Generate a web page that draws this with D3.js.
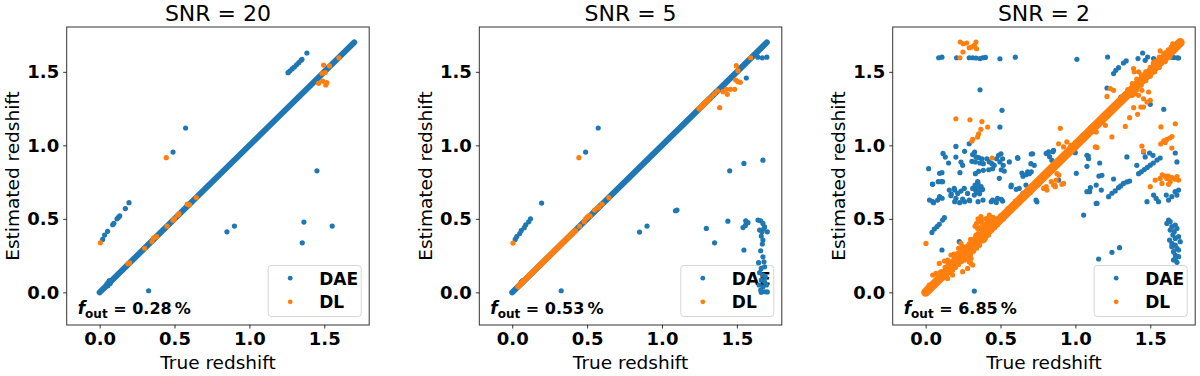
<!DOCTYPE html>
<html>
<head>
<meta charset="utf-8">
<script src="https://cdn.jsdelivr.net/npm/d3@7"></script>
<style>
  body { margin: 0; background: #fff; }
  svg text { font-family: "DejaVu Sans", sans-serif; }
  .tick text { font-weight: bold; font-size: 18px; fill: #000; }
  .tick line { stroke: #000; stroke-width: 0.8; }
  .domain { display: none; }
</style>
</head>
<body>
<div id="chart"></div>
<script>
// ---- data ----
var panelTitles = ["SNR = 20", "SNR = 5", "SNR = 2"];
var outlierFractions = ["0.28", "0.53", "6.85"];
var seriesNames = ["DAE", "DL"];
var xTicks = [0.0, 0.5, 1.0, 1.5];
var yTicks = [0.0, 0.5, 1.0, 1.5];

// dense runs of points lying on z_est = z_true, stored as [from, to]
var snr20DaeRuns = [[0.0, 1.7]];
var snr20DlRuns = [];
var snr5DaeRuns = [[0.0, 1.7]];
var snr5DlRuns = [[0.04, 0.42], [1.25, 1.31]];
var snr2DaeRuns = [[0.0, 1.7]];
var snr2DlRuns = [[0.0, 1.7]];

// individual points [true z, estimated z]
var snr20Dae = [[0.02,0.36],[0.033,0.39],[0.053,0.415],[0.087,0.46],[0.095,0.47],[0.116,0.5],[0.125,0.51],[0.134,0.52],
  [0.172,0.57],[0.196,0.61],[0.327,0.011],[0.49,0.954],[0.574,1.118],[0.85,0.412],[0.9,0.451],[1.353,0.337],
  [1.364,0.478],[1.451,0.827],[1.553,0.451],[1.258,1.494],[1.27,1.505],[1.285,1.52],[1.3,1.533],[1.315,1.548],
  [1.33,1.562],[1.345,1.578],[1.351,1.585],[1.384,1.628],[0.05,0.06],[0.06,0.07],[0.07,0.06],[0.055,0.045],[0.065,0.08]];
var snr20Dl = [[0.005,0.337],[0.445,0.916],[0.19,0.195],[0.2,0.2],[0.3,0.3],[0.35,0.345],[0.36,0.37],[0.37,0.375],
  [0.38,0.38],[0.45,0.45],[0.49,0.49],[0.5,0.5],[0.52,0.525],[0.53,0.535],[0.585,0.6],[0.6,0.595],[0.645,0.645],
  [1.462,1.422],[1.489,1.437],[1.51,1.411],[1.517,1.426],[1.485,1.49],[1.506,1.495],[1.495,1.546],[1.535,1.54],[1.598,1.596]];

var snr5Dae = [[0.02,0.36],[0.03,0.38],[0.05,0.4],[0.06,0.42],[0.08,0.44],[0.09,0.46],[0.11,0.48],[0.122,0.5],
  [0.196,0.607],[0.327,0.011],[0.49,0.954],[0.574,1.118],[0.85,0.41],[0.9,0.451],[1.09,0.555],[1.1,0.56],
  [1.296,0.435],[1.351,0.337],[1.44,0.484],[1.452,0.827],[1.547,0.877],[1.674,0.899],[1.563,1.458],[1.547,0.288],
  [1.541,0.441],[1.557,0.455],[1.574,0.474],[1.559,0.487],[1.64,1.6],[1.67,1.595],[1.7,1.6],[0.06,0.07],[0.07,0.08],
  [1.641,0.492],[1.659,0.487],[1.674,0.469],[1.685,0.446],[1.652,0.424],[1.668,0.412],[1.681,0.435],[1.703,0.412],
  [1.663,0.383],[1.674,0.356],[1.67,0.329],[1.659,0.283],[1.674,0.242],[1.645,0.202],[1.681,0.208],[1.663,0.163],
  [1.685,0.174],[1.652,0.134],[1.674,0.118],[1.69,0.106],[1.663,0.084],[1.685,0.072],[1.648,0.05],[1.674,0.038],
  [1.697,0.05],[1.659,0.016],[1.685,0.004],[1.703,0.003],[1.663,0.0]];
var snr5Dl = [[0.005,0.335],[0.445,0.916],[0.45,0.45],[0.48,0.48],[0.49,0.5],[0.5,0.51],[0.51,0.52],[0.52,0.52],
  [0.55,0.56],[0.57,0.575],[0.58,0.58],[0.6,0.6],[0.645,0.645],[1.33,1.33],[1.35,1.35],[1.37,1.37],[1.385,1.256],
  [1.407,1.365],[1.43,1.381],[1.456,1.381],[1.485,1.381],[1.436,1.347],[1.492,1.444],[1.507,1.433],[1.523,1.429],
  [1.496,1.542],[1.507,1.508],[1.592,1.596]];

var snr2Dae = [[0.087,1.596],[0.109,1.6],[0.207,1.596],[0.291,1.596],[0.314,1.596],[0.336,1.594],[0.363,1.59],
  [0.381,1.596],[0.399,1.598],[0.496,1.589],[0.599,1.6],[1.01,1.585],[1.215,1.601],[0.363,1.378],[0.51,1.238],
  [0.496,1.124],[0.291,1.011],[0.202,0.993],[0.327,0.954],[0.26,0.959],[0.116,0.945],[0.131,0.92],[0.153,0.88],
  [0.202,0.92],[0.236,0.886],[0.247,0.864],[0.02,0.841],[0.109,0.814],[0.229,0.814],
  [0.314,0.937],[0.336,0.921],[0.354,0.916],[0.376,0.909],[0.309,0.891],[0.332,0.887],[0.363,0.88],[0.385,0.875],
  [0.409,0.909],[0.425,0.887],[0.443,0.875],[0.458,0.864],[0.474,0.909],[0.487,0.932],[0.503,0.943],[0.514,0.909],
  [0.496,0.887],[0.518,0.864],[0.505,0.834],[0.525,0.825],[0.447,0.841],[0.421,0.834],[0.385,0.83],[0.354,0.823],
  [0.332,0.807],[0.559,0.887],[0.614,0.916],[0.714,0.943],[0.703,0.875],[0.725,0.864],[0.643,0.812],[0.681,0.819],
  [0.692,0.807],
  [0.026,0.628],[0.053,0.61],[0.045,0.737],[0.093,0.81],[0.104,0.753],[0.084,0.753],[0.093,0.651],[0.11,0.64],
  [0.171,0.669],[0.194,0.696],[0.047,0.735],[0.113,0.753],[0.158,0.696],[0.191,0.707],[0.214,0.673],[0.236,0.689],
  [0.258,0.707],[0.28,0.673],[0.314,0.707],[0.336,0.719],[0.347,0.753],[0.369,0.696],[0.325,0.662],[0.291,0.628],
  [0.247,0.635],[0.202,0.639],[0.169,0.658],[0.047,0.617],[0.08,0.628],
  [0.33,0.7],[0.34,0.72],[0.35,0.69],[0.36,0.71],[0.35,0.74],[0.37,0.72],[0.34,0.68],[0.36,0.67],[0.38,0.7],
  [0.33,0.73],[0.355,0.705],[0.345,0.695],
  [0.447,0.628],[0.48,0.639],[0.514,0.621],[0.492,0.776],[0.57,0.719],[0.625,0.707],[0.67,0.73],[0.714,0.719],
  [0.737,0.628],[0.194,0.617],[0.227,0.61],[0.26,0.617],[0.294,0.624],[0.35,0.617],[0.383,0.628],[0.438,0.617],
  [0.472,0.612],[0.505,0.633],
  [0.042,0.408],[0.058,0.431],[0.076,0.447],[0.091,0.463],[0.113,0.492],[0.125,0.508],[0.109,0.288],[0.225,0.345],
  [0.325,0.009],
  [0.572,0.73],[0.605,0.701],[0.65,0.673],[0.743,0.616],[0.705,0.941],[0.616,0.912],[0.805,0.946],[0.828,0.923],
  [0.85,0.957],[0.65,0.79],[0.67,0.8],[0.69,0.81],[0.705,0.82],
  [0.821,0.955],[0.854,0.966],[0.843,0.898],[0.81,0.943],[0.999,0.95],[1.077,0.932],[1.088,0.909],[1.077,0.857],
  [1.162,0.88],[1.177,0.796],[1.344,0.921],[1.41,0.864],[1.455,0.955],[1.466,0.921],[1.495,0.948],[1.518,0.932],
  [1.422,0.807],[1.44,0.82],[1.46,0.835],[1.48,0.85],[1.5,0.865],[1.52,0.88],[1.545,0.9],[1.566,0.914],
  [1.667,0.948],[1.678,0.887],
  [1.255,1.488],[1.27,1.51],[1.288,1.528],[1.321,1.56],[1.339,1.574],[1.449,1.628],[1.418,1.59],[1.466,1.578],
  [1.482,1.601],[1.522,1.59],[1.644,1.598],[1.656,1.598],[1.68,1.596],[1.689,1.594],[1.211,1.39],[1.304,1.329],
  [1.5,1.279],[1.59,1.245],
  [1.006,0.81],[1.086,0.927],[1.157,0.791],[1.139,0.73],[1.173,0.696],[1.095,0.685],[1.139,0.605],[1.055,0.526],
  [0.888,0.764],[1.077,0.685],[1.1,0.712],[1.144,0.605],[1.255,0.771],
  [1.222,0.651],[1.244,0.674],[1.266,0.69],[1.288,0.712],[1.303,0.724],[1.321,0.741],[1.344,0.751],[1.362,0.757],
  [1.478,0.617],[1.522,0.662],[1.539,0.639],[1.555,0.617],[1.607,0.662],[1.622,0.628],[1.644,0.651],[1.666,0.685],
  [1.678,0.662],[1.689,0.696],
  [1.622,0.492],[1.611,0.469],[1.633,0.481],[1.644,0.447],[1.667,0.458],[1.633,0.424],[1.66,0.413],[1.678,0.435],
  [1.651,0.39],[1.667,0.367],[1.689,0.379],[1.629,0.356],[1.644,0.333],[1.667,0.322],[1.7,0.345],[1.678,0.299],
  [1.655,0.277],[1.667,0.254],[1.689,0.243],[1.655,0.22],[1.678,0.204],[1.667,0.231],[1.689,0.288],[1.644,0.311],
  [1.155,0.227],[1.244,0.272],[1.295,0.304]];
var snr2Dl = [[0.231,1.703],[0.251,1.691],[0.274,1.696],[0.291,1.664],[0.307,1.669],[0.325,1.68],[0.336,1.703],
  [0.34,1.657],[0.249,1.635],[0.229,1.596],
  [0.202,1.181],[0.296,1.174],[0.376,1.162],[0.414,1.124],[0.369,1.109],[0.354,1.079],[0.347,1.057],[0.314,1.041],
  [0.309,1.029],[0.443,0.914],[0.899,1.116],[0.89,0.798],[0.805,0.719],[0.839,0.753],[0.921,0.741],[0.794,0.707],
  [0.862,0.73],[0.888,1.011],[0.943,1.023],[0.921,0.989],[1.133,0.989],[1.144,0.986],[0.877,0.807],
  [1.155,1.136],[1.2,1.136],[1.139,1.091],[1.244,1.057],[1.233,1.386],[1.255,1.374],[1.211,1.333],[1.388,1.522],
  [1.393,1.5],[1.422,1.5],[1.371,1.34],[1.4,1.351],[1.422,1.34],[1.444,1.374],[1.455,1.317],[1.478,1.295],
  [1.5,1.306],[1.455,1.261],[1.437,1.261],[1.389,1.256],[1.415,1.211],[1.362,1.188],[1.333,1.129],[1.489,1.363],
  [1.667,1.147],[1.571,1.125],[1.566,1.642],
  [1.57,1.01],[1.59,1.03],[1.61,1.04],[1.63,1.05],[1.645,1.06],[1.6,1.02],[1.444,0.995],[1.455,0.961],[1.644,0.982],
  [1.58,0.8],[1.6,0.79],[1.62,0.79],[1.645,0.78],[1.61,0.775],[1.667,0.77],[1.533,0.764],[1.566,0.775],
  [1.633,0.753],[1.678,0.787],[1.689,0.764],[1.578,0.741],[1.5,0.719],[1.622,0.735],
  [0.788,0.707],[0.81,0.696],[0.854,0.73],[0.872,0.764],[0.866,0.719],[0.91,0.735],[0.002,0.333],
  [0.091,0.197],[0.125,0.213],[0.113,0.141],[0.147,0.22],[0.169,0.254],[0.18,0.175],[0.214,0.265],[0.225,0.231],
  [0.236,0.333],[0.247,0.311],[0.258,0.277],[0.28,0.311],[0.303,0.231],[0.336,0.39],[0.347,0.435],[0.358,0.481],
  [0.369,0.515],[0.381,0.413],[0.403,0.458],[0.414,0.503],[0.425,0.526],[0.363,0.345],[0.392,0.356],[0.314,0.186],
  [0.291,0.209],[0.047,0.118],[0.069,0.129],[0.024,0.05],[0.102,0.118],[0.147,0.095],[0.18,0.118],[0.247,0.141],
  [0.28,0.163],[0.303,0.197],[0.2,0.21],[0.27,0.25],[0.32,0.3],[0.35,0.37],[0.39,0.42],[0.44,0.47],[0.47,0.5],
  [0.5,0.52],[0.16,0.18],[0.12,0.1],
  // thick part of the band between 0.1 and 0.5
  [0.1,0.14],[0.13,0.17],[0.15,0.19],[0.17,0.21],[0.19,0.23],[0.21,0.25],[0.23,0.27],[0.25,0.29],[0.27,0.31],
  [0.29,0.33],[0.31,0.35],[0.33,0.37],[0.35,0.4],[0.37,0.43],[0.39,0.45],[0.41,0.47],[0.43,0.49],[0.45,0.51],
  [0.14,0.12],[0.16,0.14],[0.18,0.15],[0.2,0.17],[0.22,0.19],[0.24,0.21],[0.26,0.22],[0.28,0.24],[0.3,0.26],
  [0.32,0.28],[0.34,0.3],[0.36,0.32],[0.38,0.35],[0.4,0.37],[0.42,0.39],[0.44,0.42],[0.46,0.44],[0.48,0.46],
  [0.33,0.45],[0.34,0.47],[0.35,0.5],[0.37,0.49],[0.36,0.44],[0.3,0.36],[0.24,0.3],[0.22,0.3],[0.19,0.26],
  [0.2,0.24],[0.26,0.26],[0.38,0.47],[0.4,0.5],[0.42,0.46],[0.46,0.49],[0.49,0.49],[0.52,0.5],[0.54,0.53],
  // thick part near the top
  [1.35,1.38],[1.38,1.42],[1.41,1.45],[1.44,1.48],[1.47,1.5],[1.5,1.53],[1.53,1.57],[1.56,1.6],[1.59,1.62],
  [1.38,1.34],[1.41,1.38],[1.44,1.41],[1.47,1.44],[1.5,1.47],[1.53,1.5],[1.56,1.53],[1.6,1.57],[1.63,1.6],
  [1.62,1.65],[1.64,1.67],[1.66,1.68],[1.68,1.69],[1.69,1.7],[1.65,1.69],[1.6,1.63],[1.67,1.66],[1.55,1.58],
  [1.52,1.56],[1.58,1.6],[0.6,0.62],[0.7,0.68],[0.55,0.57],[0.75,0.73],[0.97,1.0],[1.05,1.07],[1.1,1.12],[1.0,1.02]];

var panels = [
  {runs: [snr20DaeRuns, snr20DlRuns], pts: [snr20Dae, snr20Dl], runWidth: [6, 6]},
  {runs: [snr5DaeRuns, snr5DlRuns], pts: [snr5Dae, snr5Dl], runWidth: [6, 6]},
  {runs: [snr2DaeRuns, snr2DlRuns], pts: [snr2Dae, snr2Dl], runWidth: [6, 9]}
];
var colors = ["#1f77b4", "#ff7f0e"];

// ---- layout ----
var W = 1200, H = 376;
var lefts = [66.7, 479.3, 892.7],
    pw = 302.5, plotTop = 27, ph = 298, r = 2.6;

var svg = d3.select("#chart").append("svg")
    .attr("width", W).attr("height", H);

panels.forEach(function(p, i) {
    var x0 = lefts[i];
    var xScale = d3.scaleLinear().domain([-0.22, 1.8]).range([x0, x0 + pw]),
        yScale = d3.scaleLinear().domain([-0.222, 1.805]).range([plotTop + ph, plotTop]);
    var g = svg.append("g");

    // legend box sits under the points, as in the picture
    var lx = x0 + pw - 8 - 93, ly = plotTop + ph - 8.5 - 51;
    var leg = g.append("g");
    leg.append("rect")
        .attr("x", lx).attr("y", ly).attr("width", 93).attr("height", 51)
        .attr("rx", 3).attr("fill", "#fff").attr("fill-opacity", 0.8)
        .attr("stroke", "#d6d6d6").attr("stroke-width", 1);
    seriesNames.forEach(function(name, k) {
        var cy = ly + 12.7 + k * 23.6;
        leg.append("circle").attr("cx", lx + 22).attr("cy", cy).attr("r", 2.4).attr("fill", colors[k]);
        leg.append("text").attr("x", lx + 51).attr("y", cy + 6.3)
            .attr("font-size", "17px").attr("font-weight", "bold").text(name);
    });

    var line = d3.line().x(d => xScale(d[0])).y(d => yScale(d[1]));

    // DAE first, DL on top
    [0, 1].forEach(function(k) {
        g.selectAll(".run" + k)
            .data(p.runs[k])
            .enter().append("path")
            .attr("class", "run" + k)
            .attr("d", d => line([[d[0], d[0]], [d[1], d[1]]]))
            .attr("stroke", colors[k])
            .attr("stroke-width", p.runWidth[k])
            .attr("stroke-linecap", "round")
            .attr("fill", "none");
        g.selectAll(".pt" + k)
            .data(p.pts[k])
            .enter().append("circle")
            .attr("class", "pt" + k)
            .attr("cx", d => xScale(d[0]))
            .attr("cy", d => yScale(d[1]))
            .attr("r", r)
            .attr("fill", colors[k]);
    });

    // frame
    g.append("rect")
        .attr("x", x0).attr("y", plotTop).attr("width", pw).attr("height", ph)
        .attr("fill", "none").attr("stroke", "#333").attr("stroke-width", 1);

    g.append("g")
        .attr("transform", "translate(0," + (plotTop + ph) + ")")
        .call(d3.axisBottom(xScale).tickValues(xTicks).tickFormat(d3.format(".1f"))
              .tickSize(3.5).tickPadding(4));
    g.append("g")
        .attr("transform", "translate(" + x0 + ",0)")
        .call(d3.axisLeft(yScale).tickValues(yTicks).tickFormat(d3.format(".1f"))
              .tickSize(3.5).tickPadding(4));

    // titles and labels
    svg.append("text")
        .attr("x", x0 + pw / 2).attr("y", 20.5)
        .attr("text-anchor", "middle").attr("font-size", "22px")
        .text(panelTitles[i]);
    svg.append("text")
        .attr("x", x0 + pw / 2).attr("y", 368.5)
        .attr("text-anchor", "middle").attr("font-size", "18.5px")
        .text("True redshift");
    svg.append("text")
        .attr("transform", "translate(" + (x0 - 47.5) + "," + (plotTop + ph / 2) + ") rotate(-90)")
        .attr("text-anchor", "middle").attr("font-size", "18.5px")
        .text("Estimated redshift");

    var ann = svg.append("text")
        .attr("x", x0 + 11).attr("y", 314)
        .attr("font-size", "16px").attr("font-weight", "bold");
    ann.append("tspan").attr("font-style", "italic").attr("font-size", "17px").text("f");
    ann.append("tspan").attr("font-size", "12px").attr("dy", 3.5).text("out");
    ann.append("tspan").attr("dy", -3.5).text(" = " + outlierFractions[i] + "\u2009%");
});
</script>
</body>
</html>
